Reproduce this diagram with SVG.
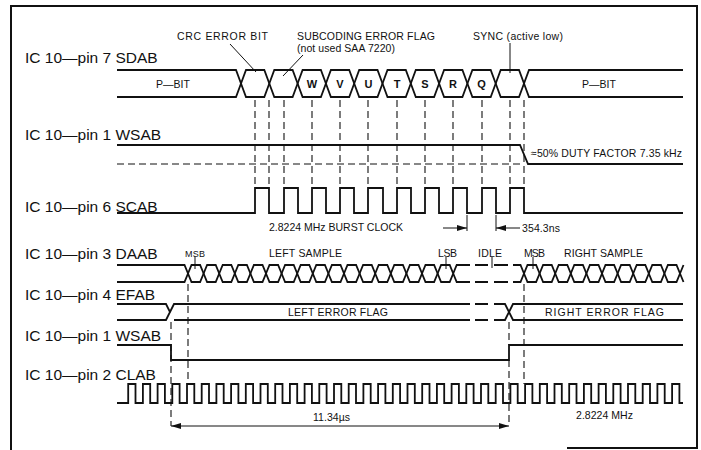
<svg xmlns="http://www.w3.org/2000/svg" xmlns:xlink="http://www.w3.org/1999/xlink" width="701" height="450" viewBox="0 0 701 450">
<style>
.lbl{font-family:"Liberation Sans",Arial,sans-serif;font-size:15.5px;fill:#111}
.t{font-family:"Liberation Sans",Arial,sans-serif;font-size:10.5px;fill:#111}
.s{font-family:"Liberation Sans",Arial,sans-serif;font-size:9px;fill:#111}
.ltr{font-family:"Liberation Sans",Arial,sans-serif;font-size:11px;font-weight:bold;fill:#111;text-anchor:middle}
.w{fill:none;stroke:#111;stroke-width:1.8;stroke-linejoin:miter}
.d{fill:none;stroke:#111;stroke-width:1.1;stroke-dasharray:7 4}
.ln{fill:none;stroke:#111;stroke-width:1}
.fr{fill:none;stroke:#111;stroke-width:2}
</style>
<defs>
<path id="sbox" d="M0,13.5 L5,0 H23.3 L28.3,13.5 L23.3,27 H5 Z"/>
<path id="dbox" d="M0,8.5 L3.5,0 H12.1 L15.6,8.5 L12.1,17 H3.5 Z"/>
<marker id="ah" viewBox="0 0 10 6" refX="10" refY="3" markerWidth="10" markerHeight="6" markerUnits="userSpaceOnUse" orient="auto-start-reverse"><path d="M0,0 L10,3 L0,6 Z" fill="#111"/></marker>
</defs>
<path class="fr" d="M11,450 V6 H697 V448 H567"/>

<g id="sdab">
<text class="lbl" x="25" y="63">IC 10—pin 7 SDAB</text>
<path class="w" d="M117,70 H236 L241,83.5 L236,97 H117"/>
<g class="w">
<use xlink:href="#sbox" x="241" y="70"/><use xlink:href="#sbox" x="269.3" y="70"/><use xlink:href="#sbox" x="297.6" y="70"/><use xlink:href="#sbox" x="325.9" y="70"/><use xlink:href="#sbox" x="354.2" y="70"/><use xlink:href="#sbox" x="382.5" y="70"/><use xlink:href="#sbox" x="410.8" y="70"/><use xlink:href="#sbox" x="439.1" y="70"/><use xlink:href="#sbox" x="467.4" y="70"/><use xlink:href="#sbox" x="495.7" y="70"/>
</g>
<path class="w" d="M683,70 H529 L524,83.5 L529,97 H683"/>
<text class="t" x="156" y="88" font-size="11">P—BIT</text>
<text class="t" x="582" y="88" font-size="11">P—BIT</text>
<text class="ltr" x="312" y="88">W</text>
<text class="ltr" x="340" y="88">V</text>
<text class="ltr" x="368.5" y="88">U</text>
<text class="ltr" x="397" y="88">T</text>
<text class="ltr" x="425" y="88">S</text>
<text class="ltr" x="453" y="88">R</text>
<text class="ltr" x="481.5" y="88">Q</text>
<text class="t" x="177" y="40" textLength="91">CRC ERROR BIT</text>
<text class="t" x="297" y="40" textLength="138">SUBCODING ERROR FLAG</text>
<text class="t" x="297" y="52" textLength="98">(not used SAA 7220)</text>
<text class="t" x="473" y="40" textLength="90">SYNC (active low)</text>
</g>

<g id="wsab1">
<text class="lbl" x="25" y="140">IC 10—pin 1 WSAB</text>
<path class="w" d="M117,145 H520 L528,164 H683"/>
<path class="d" d="M117,164 H520"/>
<text class="t" x="531" y="157" textLength="151">≈50% DUTY FACTOR 7.35 kHz</text>
</g>

<g id="scab">
<text class="lbl" x="25" y="212">IC 10—pin 6 SCAB</text>
<path class="w" d="M117,213 H255 V188 H269 V213 H284 V188 H298 V213 H312 V188 H326 V213 H340 V188 H354 V213 H368 V188 H383 V213 H397 V188 H411 V213 H425 V188 H439 V213 H453 V188 H467 V213 H482 V188 H496 V213 H510 V188 H524 V213 H683"/>
<text class="t" x="269" y="231" textLength="134">2.8224 MHz BURST CLOCK</text>
<text class="t" x="522" y="232" textLength="38">354.3ns</text>
</g>

<g id="daab">
<text class="lbl" x="25" y="259">IC 10—pin 3 DAAB</text>
<path class="w" d="M117,265 H184.5 L188,273.5 L184.5,282 H117"/>
<g class="w">
<use xlink:href="#dbox" x="188" y="265"/><use xlink:href="#dbox" x="203.6" y="265"/><use xlink:href="#dbox" x="219.2" y="265"/><use xlink:href="#dbox" x="234.8" y="265"/><use xlink:href="#dbox" x="250.4" y="265"/><use xlink:href="#dbox" x="266" y="265"/><use xlink:href="#dbox" x="281.6" y="265"/><use xlink:href="#dbox" x="297.2" y="265"/><use xlink:href="#dbox" x="312.8" y="265"/><use xlink:href="#dbox" x="328.4" y="265"/><use xlink:href="#dbox" x="344" y="265"/><use xlink:href="#dbox" x="359.6" y="265"/><use xlink:href="#dbox" x="375.2" y="265"/><use xlink:href="#dbox" x="390.8" y="265"/><use xlink:href="#dbox" x="406.4" y="265"/><use xlink:href="#dbox" x="422" y="265"/><use xlink:href="#dbox" x="437.6" y="265"/>
<use xlink:href="#dbox" x="524" y="265"/><use xlink:href="#dbox" x="539.6" y="265"/><use xlink:href="#dbox" x="555.2" y="265"/><use xlink:href="#dbox" x="570.8" y="265"/><use xlink:href="#dbox" x="586.4" y="265"/><use xlink:href="#dbox" x="602" y="265"/><use xlink:href="#dbox" x="617.6" y="265"/><use xlink:href="#dbox" x="633.2" y="265"/><use xlink:href="#dbox" x="648.8" y="265"/><use xlink:href="#dbox" x="664.4" y="265"/>
</g>
<path class="w" d="M680,273.5 L683.5,265 M680,273.5 L683.5,282"/>
<path class="w" d="M453.2,273.5 L456.7,265 H470 M475,265 H488 M494,265 H508 M513,265 H520.5 L524,273.5 M453.2,273.5 L456.7,282 H470 M475,282 H488 M494,282 H508 M513,282 H520.5 L524,273.5"/>
<text class="s" x="185" y="257" textLength="20">MSB</text>
<text class="t" x="269" y="257" textLength="73">LEFT SAMPLE</text>
<text class="t" x="438" y="257" textLength="19">LSB</text>
<text class="t" x="478" y="257" textLength="24">IDLE</text>
<text class="t" x="524" y="257" textLength="21">MSB</text>
<text class="t" x="564" y="257" textLength="79">RIGHT SAMPLE</text>
</g>

<g id="efab">
<text class="lbl" x="25" y="300">IC 10—pin 4 EFAB</text>
<path class="w" d="M117,304 H166 L170,312 L166,320 H117"/>
<path class="w" d="M170,312 L174,304 H470 M475,304 H488 M494,304 H505 L509,312 L505,320 H494 M488,320 H475 M470,320 H174 Z"/>
<path class="w" d="M683,304 H513 L509,312 L513,320 H683"/>
<text class="t" x="288" y="316" textLength="100">LEFT ERROR FLAG</text>
<text class="t" x="545" y="316" textLength="119">RIGHT ERROR FLAG</text>
</g>

<g id="wsab2">
<text class="lbl" x="25" y="341">IC 10—pin 1 WSAB</text>
<path class="w" d="M117,345 H171 V360 H509 V345 H683"/>
</g>

<g id="clab">
<text class="lbl" x="25" y="380">IC 10—pin 2 CLAB</text>
<path class="w" d="M117,403 H128.2
v-19h7.3v19h7.4 v-19h7.3v19h7.4 v-19h7.3v19h7.4 v-19h7.3v19h7.4 v-19h7.3v19h7.4 v-19h7.3v19h7.4 v-19h7.3v19h7.4 v-19h7.3v19h7.4 v-19h7.3v19h7.4 v-19h7.3v19h7.4
v-19h7.3v19h7.4 v-19h7.3v19h7.4 v-19h7.3v19h7.4 v-19h7.3v19h7.4 v-19h7.3v19h7.4 v-19h7.3v19h7.4 v-19h7.3v19h7.4 v-19h7.3v19h7.4 v-19h7.3v19h7.4 v-19h7.3v19h7.4
v-19h7.3v19h7.4 v-19h7.3v19h7.4 v-19h7.3v19h7.4 v-19h7.3v19h7.4 v-19h7.3v19h7.4 v-19h7.3v19h7.4 v-19h7.3v19h7.4 v-19h7.3v19h7.4 v-19h7.3v19h7.4 v-19h7.3v19h7.4
v-19h7.3v19h7.4 v-19h7.3v19h7.4 v-19h7.3v19h7.4 v-19h7.3v19h7.4 v-19h7.3v19h7.4 v-19h7.3v19h7.4 v-19h7.3v19h7.4
v-19h7.3v19 H683"/>
<text class="t" x="313" y="421" textLength="37">11.34µs</text>
<text class="t" x="576" y="419" textLength="57">2.8224 MHz</text>
</g>

<g id="connectors">
<path class="ln" d="M230,44 L256,72 M303,55 L283,76 M510,43 V73"/>
<path class="d" d="M255,100 V188 M269,100 V188 M284,100 V188 M312,100 V188 M340,100 V188 M368,100 V188 M397,100 V188 M425,100 V188 M453,100 V188 M482,100 V188 M510,100 V188 M524,100 V188"/>
<path class="ln" d="M467,215 V231 M496,215 V231"/>
<path class="ln" d="M443,228 H467" marker-end="url(#ah)"/>
<path class="ln" d="M520,228 H496" marker-end="url(#ah)"/>
<path class="ln" d="M195,257 V269 M446,257 V269 M492,257 V268 M533,257 V269"/>
<path class="d" d="M188,284 V384 M524,284 V384 M171,322 V426 M509,322 V345 M509,360 V426"/>
<path class="ln" d="M171,426 H509" marker-start="url(#ah)" marker-end="url(#ah)"/>
</g>
</svg>
